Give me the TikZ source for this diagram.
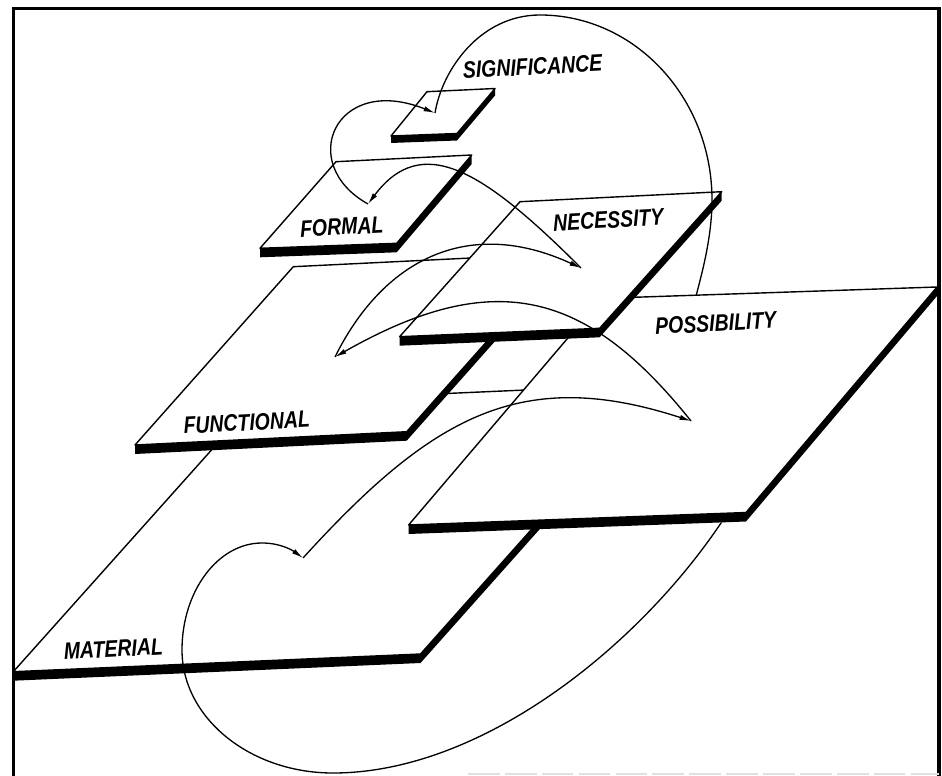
\documentclass[tikz,border=0pt]{standalone}
\usepackage{fontspec}
\setsansfont{Liberation Sans}
\usetikzlibrary{arrows.meta, calc}
\tikzset{
    % Slab styles - white top face, black side band
    slabtop/.style={
        fill=white,
        draw=black,
        line width=0.8pt,
        line join=round
    },
    slabside/.style={
        fill=black
    },
    % Level names
    levelname/.style={
        font=\sffamily\bfseries\itshape\fontsize{13.5}{15}\selectfont,
        rotate=3,
        xscale=0.82,
        inner sep=0pt
    },
    % Arrow styles
    levelarrow/.style={
        -{Latex[length=6.5pt,width=3pt]},
        line width=0.75pt,
        draw=black
    },
    frameline/.style={
        line width=1.8pt,
        draw=black
    }
}
\begin{document}
\begin{tikzpicture}[x=0.02cm, y=-0.02cm]
    \useasboundingbox (0,0) rectangle (942,776);

    % Corners of the slabs
    \coordinate (matBL) at (13.3,671.7);  \coordinate (matBR) at (420.5,654);
    \coordinate (matTR) at (661,384);     \coordinate (matTL) at (254.4,402);
    \coordinate (funBL) at (135,445);     \coordinate (funBR) at (406.7,431.7);
    \coordinate (funTR) at (565,253.4);   \coordinate (funTL) at (293.3,266.7);
    \coordinate (posBL) at (408.6,525);   \coordinate (posBR) at (746,512.5);
    \coordinate (posTR) at (937,287);     \coordinate (posTL) at (601.6,298.4);
    \coordinate (necBL) at (399.6,336.7); \coordinate (necBR) at (599.6,328.3);
    \coordinate (necTR) at (721.7,191.7); \coordinate (necTL) at (520,201.7);
    \coordinate (forBL) at (260,248.3);   \coordinate (forBR) at (396.7,243.3);
    \coordinate (forTR) at (471.7,155);   \coordinate (forTL) at (336,161.7);
    \coordinate (sigBL) at (391,136);     \coordinate (sigBR) at (457,133.5);
    \coordinate (sigTR) at (495,88.5);    \coordinate (sigTL) at (427,91.7);

    % Frame
    \draw[frameline] (13.3,776) -- (13.3,8.3) -- (939,8.3) -- (939,776);
    \draw[black!12, line width=1pt, dash pattern=on 18pt off 3pt] (468,774) -- (939,774);

    % Material slab
    \fill[slabside] (matBL) -- (matBR) -- (matTR) -- ($(matTR)+(0,9)$) -- ($(matBR)+(0,9)$) -- ($(matBL)+(0,9)$) -- cycle;
    \draw[slabtop] (matBL) -- (matBR) -- (matTR) -- (matTL) -- cycle;

    % Functional slab
    \fill[slabside] (funBL) -- (funBR) -- (funTR) -- ($(funTR)+(0,9)$) -- ($(funBR)+(0,9)$) -- ($(funBL)+(0,9)$) -- cycle;
    \draw[slabtop] (funBL) -- (funBR) -- (funTR) -- (funTL) -- cycle;

    % Possibility slab
    \fill[slabside] (posBL) -- (posBR) -- (posTR) -- ($(posTR)+(0,9)$) -- ($(posBR)+(0,9)$) -- ($(posBL)+(0,9)$) -- cycle;
    \draw[slabtop] (posBL) -- (posBR) -- (posTR) -- (posTL) -- cycle;

    % Necessity slab
    \fill[slabside] (necBL) -- (necBR) -- (necTR) -- ($(necTR)+(0,9)$) -- ($(necBR)+(0,9)$) -- ($(necBL)+(0,9)$) -- cycle;
    \draw[slabtop] (necBL) -- (necBR) -- (necTR) -- (necTL) -- cycle;

    % Formal slab
    \fill[slabside] (forBL) -- (forBR) -- (forTR) -- ($(forTR)+(0,9)$) -- ($(forBR)+(0,9)$) -- ($(forBL)+(0,9)$) -- cycle;
    \draw[slabtop] (forBL) -- (forBR) -- (forTR) -- (forTL) -- cycle;

    % Significance slab
    \fill[slabside] (sigBL) -- (sigBR) -- (sigTR) -- ($(sigTR)+(0,7)$) -- ($(sigBR)+(0,7)$) -- ($(sigBL)+(0,7)$) -- cycle;
    \draw[slabtop] (sigBL) -- (sigBR) -- (sigTR) -- (sigTL) -- cycle;

    % Level names
    \node[levelname] (matname) at (113.3,649) {MATERIAL};
    \node[levelname] (funname) at (246.7,422.5) {FUNCTIONAL};
    \node[levelname] (posname) at (715.7,323.3) {POSSIBILITY};
    \node[levelname] (necname) at (608.3,220) {NECESSITY};
    \node[levelname] (forname) at (341.7,226.7) {FORMAL};
    \node[levelname] (signame) at (532.5,66.7) {SIGNIFICANCE};

    % Arrow ends on the slabs
    \coordinate (matpt) at (303,558);
    \coordinate (pospt) at (691,421);
    \coordinate (funpt) at (335,357);
    \coordinate (necpt) at (581,268);
    \coordinate (forpt) at (368,204);
    \coordinate (sigpt) at (435,113);

    % Arrows
    \draw[levelarrow] (matpt) .. controls (433,415) and (522,366) .. (pospt);
    \draw[levelarrow] (pospt) .. controls (587,291) and (495,266) .. (funpt);
    \draw[levelarrow] (funpt) .. controls (382,262) and (466,215) .. (necpt);
    \draw[levelarrow] (necpt) .. controls (483,170) and (422,132) .. (forpt);
    \draw[levelarrow] (forpt) .. controls (296,164) and (335,73) .. (sigpt);

    % Long loop back, passing under the possibility slab
    \begin{scope}[even odd rule]
        \clip (-10,-10) rectangle (960,790)
            (posTL) -- (posBL) -- ($(posBL)+(0,9)$) -- ($(posBR)+(0,9)$) -- ($(posTR)+(0,9)$) -- (posTR) -- cycle;
        \draw[levelarrow] (sigpt) .. controls (442,70) and (480,15) .. (540,15)
            .. controls (635,15) and (712,98) .. (712,200)
            .. controls (712,240) and (700,280) .. (695,300)
            .. controls (690,380) and (760,460) .. (723,520)
            .. controls (640.5,644.5) and (483,773) .. (333,773)
            .. controls (250,773) and (182,718) .. (182,650)
            .. controls (182,591) and (218,543) .. (262,543)
            .. controls (280,543) and (292,550) .. (matpt);
    \end{scope}
\end{tikzpicture}
\end{document}
